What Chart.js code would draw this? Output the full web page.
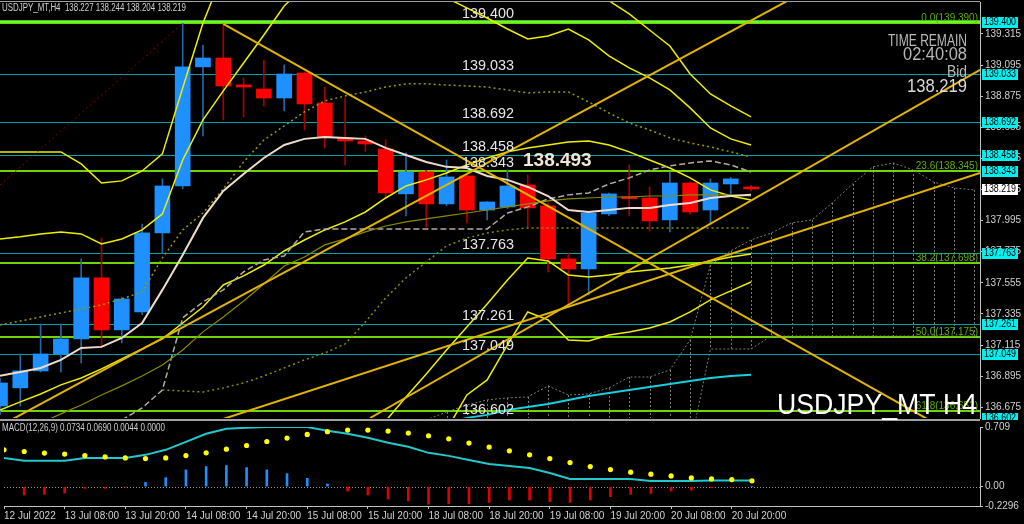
<!DOCTYPE html>
<html>
<head>
<meta charset="utf-8">
<script src="https://cdn.jsdelivr.net/npm/chart.js@4.4.0/dist/chart.umd.min.js"></script>
<style>
body { margin: 0; background: #000; overflow: hidden; }
#wrap { position: relative; width: 1024px; height: 524px; background: #000; }
#main { position: absolute; left: 0; top: 0; }
#macd { position: absolute; left: 0; top: 420px; }
</style>
</head>
<body>
<div id="wrap">
  <canvas id="main" width="1024" height="420"></canvas>
  <canvas id="macd" width="1024" height="104"></canvas>
</div>
<script>
// velas H4 USDJPY (12 Jul 20:00 -> 20 Jul 20:00)
var opens  = [136.684, 136.812, 136.932, 137.052, 137.158, 137.590, 137.222, 137.349, 137.908, 138.240,
              139.082, 139.145, 138.955, 138.926, 138.862, 139.039, 138.827, 138.580, 138.558, 138.502,
              138.184, 138.339, 138.113, 138.311, 138.070, 138.092, 138.247, 138.099, 137.724, 137.653,
              138.042, 138.160, 138.155, 138.000, 138.261, 138.070, 138.254, 138.227];
var highs  = [136.880, 137.052, 137.264, 137.264, 137.724, 137.872, 137.450, 137.971, 138.290, 139.390,
              139.237, 139.386, 139.004, 139.131, 139.096, 139.045, 138.940, 138.863, 138.594, 138.566,
              138.474, 138.350, 138.424, 138.320, 138.130, 138.353, 138.318, 138.120, 137.766, 138.050,
              138.190, 138.389, 138.233, 138.339, 138.270, 138.290, 138.300, 138.244];
var lows   = [136.620, 136.684, 136.925, 136.925, 136.988, 137.095, 137.130, 137.330, 137.767, 138.220,
              138.594, 138.707, 138.728, 138.806, 138.771, 138.636, 138.509, 138.389, 138.481, 138.162,
              138.028, 137.950, 138.100, 137.979, 138.000, 138.080, 137.943, 137.632, 137.384, 137.469,
              138.030, 138.028, 137.922, 137.915, 138.040, 137.979, 138.184, 138.204];
var closes = [136.847, 136.932, 137.052, 137.158, 137.590, 137.222, 137.441, 137.908, 138.240, 139.082,
              139.145, 138.947, 138.940, 138.862, 139.032, 138.820, 138.587, 138.558, 138.537, 138.191,
              138.339, 138.113, 138.304, 138.070, 138.127, 138.240, 138.085, 137.724, 137.653, 138.049,
              138.184, 138.150, 137.993, 138.261, 138.056, 138.261, 138.290, 138.219];

// indicadores (valor por vela)
var whiteMA = [136.897, 136.925, 136.953, 137.010, 137.094, 137.102, 137.165, 137.271, 137.505, 137.752,
               138.014, 138.205, 138.325, 138.438, 138.530, 138.573, 138.587, 138.580, 138.573, 138.509,
               138.459, 138.410, 138.375, 138.367, 138.311, 138.283, 138.233, 138.169, 138.070, 138.056,
               138.070, 138.085, 138.085, 138.106, 138.120, 138.155, 138.169, 138.177];
var bandOuterUpper = [138.481, 138.481, 138.481, 138.481, 138.396, 138.261, 138.276, 138.346, 138.467, 138.933,
               139.393, 139.75, 139.95, 140.05, 140.10, 140.10, 140.05, 140.00, 139.95, 139.90,
               139.88, 139.85, 139.82, 139.80, 139.78, 139.75, 139.72, 139.68, 139.64, 139.60,
               139.55, 139.457, 139.343, 139.230, 139.032, 138.891, 138.806, 138.728];
var bandInnerUpper = [137.865, 137.880, 137.901, 137.915, 137.901, 137.830, 137.865, 137.929, 138.042, 138.424,
               138.707, 138.912, 139.110, 139.308, 139.513, 139.65, 139.75, 139.80, 139.80, 139.75,
               139.68, 139.62, 139.570, 139.499, 139.428, 139.350, 139.280, 139.301, 139.350, 139.273,
               139.160, 139.075, 139.004, 138.919, 138.792, 138.650, 138.573, 138.530];
var bandInnerLower = [135.95, 136.08, 136.25, 136.41, 136.578, 136.748, 136.911, 137.080, 137.243, 137.406,
               137.575, 137.731, 137.710, 137.611, 137.597, 137.611, 137.632, 137.646, 137.660, 137.681,
               137.710, 137.738, 137.759];            // desde la vela 15
var bandOuterLower = [136.0, 136.3, 136.515, 136.762, 136.868, 137.116, 137.349, 137.293, 137.151, 137.144,
               137.186, 137.208, 137.236, 137.278, 137.349, 137.434, 137.498, 137.561];   // desde la vela 20
var slowYellow = [136.656, 136.713, 136.769, 136.833, 136.882, 136.946, 137.017, 137.088, 137.158, 137.271,
               137.384, 137.540, 137.604, 137.681, 137.780, 137.858, 137.929, 137.986, 138.056, 138.155,
               138.240, 138.283, 138.332, 138.389, 138.438, 138.481, 138.509, 138.530, 138.551, 138.558,
               138.530, 138.481, 138.424, 138.367, 138.297, 138.212, 138.169, 138.141];
var bbMiddle = [137.257, 137.285, 137.314, 137.342, 137.370, 137.399, 137.441, 137.491, 137.731, 137.929,
               138.049, 138.219, 138.410, 138.565, 138.665, 138.764, 138.841, 138.877, 138.905, 138.940,
               138.962, 138.962, 138.954, 138.947, 138.940, 138.919, 138.898, 138.905, 138.905, 138.834,
               138.756, 138.686, 138.636, 138.580, 138.544, 138.516, 138.481, 138.445];
var kijun = [136.585, 136.670, 136.797, 137.307, 137.420, 137.505, 137.632, 137.717, 137.745, 137.915,
               137.936, 137.936, 137.936, 137.936, 137.936, 137.936, 137.936, 137.936, 137.936, 138.049,
               138.092, 138.148, 138.177, 138.191, 138.254, 138.297, 138.353, 138.382, 138.403, 138.417,
               138.389, 138.339];                      // desde la vela 6
var oliveMA = [136.564, 136.628, 136.691, 136.762, 136.826, 136.896, 136.974, 137.080, 137.208, 137.314,
               137.427, 137.547, 137.674, 137.738, 137.823, 137.866, 137.915, 137.957, 137.986, 138.007,
               138.028, 138.049, 138.070, 138.092, 138.113, 138.134, 138.148, 138.155, 138.162, 138.162,
               138.169, 138.169, 138.177, 138.177, 138.177, 138.169];   // desde la vela 2
var oliveDots = [136.797, 136.790, 136.783, 136.812, 136.847, 136.896, 136.953, 137.010, 137.059, 137.123,
               137.278, 137.448, 137.590, 137.703, 137.816, 137.872, 137.908, 137.929, 137.943, 137.943,
               137.943, 137.943, 137.943, 137.943, 137.943, 137.943, 137.943, 137.943, 137.943, 137.943]; // desde la vela 8
var cyanMA = [136.53, 136.564, 136.600, 136.621, 136.656, 136.677, 136.698, 136.727, 136.755, 136.776,
               136.797, 136.819, 136.840, 136.861, 136.882, 136.896, 136.904];   // desde la vela 21

// nube (desde la vela 21, se proyecta hacia el futuro)
var cloudStart = 21;
var cloudTop = [136.585, 136.642, 136.691, 136.727, 136.741, 136.748, 136.826, 136.762, 136.769, 136.812,
               136.889, 136.889, 136.939, 137.151, 137.681, 137.781, 137.858, 137.908, 137.979, 138.000,
               138.120, 138.254, 138.375, 138.403, 138.353, 138.268, 138.226, 138.212];
var cloudBottom = [136.40, 136.40, 136.40, 136.40, 136.40, 136.40, 136.40, 136.40, 136.40, 136.40,
               136.40, 136.40, 136.40, 136.40, 137.087, 137.087, 137.087, 137.179, 137.179, 137.179,
               137.179, 137.179, 137.179, 137.179, 137.179, 137.179, 137.179, 137.179];

// lineas de tendencia [vela, precio]
var trendDown  = [[11, 139.386], [48.28, 136.383]];
var trendUp1   = [[10.84, 136.585], [48.28, 138.332]];
var trendUp2   = [[18.23, 136.599], [48.28, 139.061]];
var trendUp3   = [[0, 136.543], [48.28, 140.284]];
var fibDiag    = [[0, 138.247], [9, 139.39]];

// niveles horizontales
var tealLevels = [139.033, 138.692, 138.458, 138.343, 137.763, 137.261, 137.049, 136.602];
var topLevel = 139.400;
var fibLevels = [139.390, 138.345, 137.698, 137.175, 136.652];
var fibText = ['0.0(139.390)', '23.6(138.345)', '38.2(137.698)', '50.0(137.175)', '61.8(136.652)'];
var chartLabels = [139.400, 139.033, 138.692, 138.458, 138.343, 137.763, 137.261, 137.049, 136.602];
var axisBoxes = [139.400, 139.033, 138.692, 138.458, 138.343, 137.763, 137.261, 137.049, 136.602];
var bidPrice = 138.219;
var priceTicks = [139.315, 139.095, 138.875, 138.655, 138.435, 138.215, 137.995, 137.775, 137.555,
                  137.335, 137.115, 136.895, 136.675];

// MACD(12,26,9)
var macdMain = [0.342, 0.307, 0.307, 0.307, 0.342, 0.342, 0.342, 0.378, 0.438, 0.533,
                0.629, 0.689, 0.700, 0.708, 0.708, 0.708, 0.665, 0.629, 0.581, 0.521,
                0.474, 0.402, 0.366, 0.318, 0.270, 0.246, 0.222, 0.163, 0.091, 0.091,
                0.091, 0.091, 0.068, 0.068, 0.068, 0.072, 0.073, 0.0734];
var macdSignal = [0.438, 0.418, 0.399, 0.387, 0.370, 0.354, 0.342, 0.334, 0.342, 0.370,
                  0.402, 0.446, 0.489, 0.537, 0.578, 0.621, 0.653, 0.673, 0.673, 0.661,
                  0.637, 0.605, 0.569, 0.518, 0.470, 0.426, 0.378, 0.334, 0.286, 0.239,
                  0.203, 0.172, 0.148, 0.128, 0.104, 0.092, 0.084, 0.069];
var macdHist = [null, -0.099, -0.091, -0.076, -0.020, -0.020, -0.004, 0.050, 0.107, 0.199,
                0.239, 0.251, 0.227, 0.199, 0.155, 0.099, 0.032, -0.052, -0.099, -0.147,
                -0.171, -0.207, -0.203, -0.203, -0.187, -0.159, -0.159, -0.179, -0.187, -0.159,
                -0.119, -0.091, -0.080, -0.052, -0.040, -0.012, -0.005, 0.0044];
var macdTicks = [0.709, 0, -0.2296];
var macdTickText = ['0.709', '0.00', '-0.2296'];

// eje de tiempo
var axisTickBars = [0, 3, 6, 9, 12, 15, 18, 21, 24, 27, 30, 33, 36];
var axisTickText = ['12 Jul 2022', '13 Jul 08:00', '13 Jul 20:00', '14 Jul 08:00', '14 Jul 20:00',
                    '15 Jul 08:00', '15 Jul 20:00', '18 Jul 08:00', '18 Jul 20:00', '19 Jul 08:00',
                    '19 Jul 20:00', '20 Jul 08:00', '20 Jul 20:00'];

var xMax = 48.28;
var FONT = "'Liberation Sans', Arial, sans-serif";
Chart.defaults.font.family = FONT;

function serie(values, start) {
    start = start || 0;
    return values.map(function (v, i) { return { x: start + i, y: v }; });
}
function linea(values, start, color, width, dash, order) {
    return { type: 'line', data: serie(values, start), borderColor: color, borderWidth: width,
             borderDash: dash || [], pointRadius: 0, tension: 0, fill: false, order: order || 5 };
}
function segmento(points, color, width, dash) {
    return { type: 'line', data: points.map(function (p) { return { x: p[0], y: p[1] }; }),
             borderColor: color, borderWidth: width, borderDash: dash || [], pointRadius: 0, order: 3 };
}

var bullish = opens.map(function (o, i) { return closes[i] >= o; });

var mainOverlay = {
    id: 'mainOverlay',
    beforeDatasetsDraw: function (chart) {
        var ctx = chart.ctx, a = chart.chartArea, x = chart.scales.x, y = chart.scales.y;
        ctx.save();
        ctx.beginPath(); ctx.rect(a.left, a.top, a.right - a.left, a.bottom - a.top); ctx.clip();
        // sombreado de la nube
        ctx.strokeStyle = '#7c7c7c'; ctx.lineWidth = 1; ctx.setLineDash([2, 2]);
        cloudTop.forEach(function (v, k) {
            var px = Math.round(x.getPixelForValue(cloudStart + k)) + 0.5;
            ctx.beginPath();
            ctx.moveTo(px, y.getPixelForValue(v));
            ctx.lineTo(px, y.getPixelForValue(cloudBottom[k]));
            ctx.stroke();
        });
        ctx.setLineDash([]);
        // niveles
        ctx.lineWidth = 1; ctx.strokeStyle = '#00a3a3';
        tealLevels.forEach(function (v) {
            var py = Math.round(y.getPixelForValue(v)) + 0.5;
            ctx.beginPath(); ctx.moveTo(a.left, py); ctx.lineTo(a.right, py); ctx.stroke();
        });
        ctx.lineWidth = 2; ctx.strokeStyle = '#70d400';
        fibLevels.forEach(function (v) {
            var py = Math.round(y.getPixelForValue(v));
            ctx.beginPath(); ctx.moveTo(a.left, py); ctx.lineTo(a.right, py); ctx.stroke();
        });
        ctx.strokeStyle = '#66ff33'; ctx.lineWidth = 2.5;
        var pt = Math.round(y.getPixelForValue(topLevel)) - 0.5;
        ctx.beginPath(); ctx.moveTo(a.left, pt); ctx.lineTo(a.right, pt); ctx.stroke();
        ctx.restore();
    },
    afterDraw: function (chart) {
        var ctx = chart.ctx, a = chart.chartArea, y = chart.scales.y;
        ctx.save();
        // borde superior e inferior del panel
        ctx.strokeStyle = '#a0a0a0'; ctx.lineWidth = 1;
        ctx.beginPath(); ctx.moveTo(0, 1.5); ctx.lineTo(a.right, 1.5); ctx.stroke();
        ctx.beginPath(); ctx.moveTo(0, 419.5); ctx.lineTo(a.right, 419.5); ctx.stroke();

        // textos de nivel dentro del grafico
        ctx.fillStyle = '#e6e6e6'; ctx.font = '15px ' + FONT; ctx.textBaseline = 'alphabetic'; ctx.textAlign = 'left';
        chartLabels.forEach(function (v) {
            ctx.fillText(v.toFixed(3), 462, y.getPixelForValue(v) - 4, 52);
        });
        ctx.fillStyle = '#f3e7d3'; ctx.font = 'bold 19px ' + FONT;
        ctx.fillText('138.493', 523, 166, 76);

        // etiquetas fibonacci
        ctx.fillStyle = '#5fae00'; ctx.font = '10px ' + FONT; ctx.textAlign = 'right';
        fibLevels.forEach(function (v, k) {
            ctx.fillText(fibText[k], a.right - 2, y.getPixelForValue(v) - 2);
        });

        // cabecera
        ctx.textAlign = 'left'; ctx.fillStyle = '#cfcfcf'; ctx.font = '10px ' + FONT;
        ctx.fillText('USDJPY_MT,H4  138.227 138.244 138.204 138.219', 2, 11, 184);

        // contador y bid
        ctx.textAlign = 'right'; ctx.fillStyle = '#b8b8b8';
        ctx.font = '17px ' + FONT; ctx.fillText('TIME REMAIN', 967, 46, 79);
        ctx.font = '19px ' + FONT; ctx.fillText('02:40:08', 967, 60, 64);
        ctx.font = '17px ' + FONT; ctx.fillText('Bid', 967, 77, 20);
        ctx.fillStyle = '#d8d8d8'; ctx.font = '19px ' + FONT; ctx.fillText(String(bidPrice.toFixed(3)), 967, 92, 60);

        // simbolo
        ctx.fillStyle = '#ffffff'; ctx.font = '29px ' + FONT;
        ctx.fillText('USDJPY_MT H4', 977, 414, 200);

        // cajas del eje de precios
        ctx.textAlign = 'left'; ctx.textBaseline = 'middle'; ctx.font = '10px ' + FONT;
        axisBoxes.forEach(function (v) {
            var py = Math.round(y.getPixelForValue(v));
            ctx.fillStyle = '#00f0f0'; ctx.fillRect(982, py - 5, 36, 11);
            ctx.fillStyle = '#000000'; ctx.fillText(v.toFixed(3), 984, py + 0.5, 32);
        });
        var pb = Math.round(y.getPixelForValue(bidPrice));
        ctx.fillStyle = '#ffffff'; ctx.fillRect(982, pb - 5, 36, 11);
        ctx.fillStyle = '#000000'; ctx.fillText(bidPrice.toFixed(3), 984, pb + 0.5, 32);
        ctx.restore();
    }
};

var candleDatasets = [
    { type: 'bar', data: opens.map(function (o, i) { return { x: i, y: [lows[i], highs[i]] }; }),
      backgroundColor: bullish.map(function (b) { return b ? '#2466a8' : '#a80000'; }),
      barThickness: 1, grouped: false, order: 20 },
    { type: 'bar', data: opens.map(function (o, i) { return { x: i, y: [o, closes[i]] }; }),
      backgroundColor: bullish.map(function (b) { return b ? '#1e90ff' : '#ff0000'; }),
      barThickness: 15, grouped: false, minBarLength: 2, order: 19 }
];

var lineDatasets = [
    linea(cyanMA, 21, '#16d0dc', 2),
    linea(cloudTop, cloudStart, '#7c7c7c', 1, [2, 2], 8),
    linea(cloudBottom, cloudStart, '#7c7c7c', 1, [2, 2], 8),
    linea(oliveMA, 2, '#8a8a00', 1.2),
    linea(oliveDots, 8, '#8a8a00', 1.5, [2, 3]),
    linea(bbMiddle, 0, '#9a9a00', 1.5, [2, 3]),
    linea(kijun, 6, '#b5aba0', 1.5, [6, 3]),
    linea(bandOuterUpper, 0, '#eeee00', 1.5),
    linea(bandInnerUpper, 0, '#eeee00', 1.5),
    linea(bandInnerLower, 15, '#eeee00', 1.5),
    linea(bandOuterLower, 20, '#eeee00', 1.5),
    linea(slowYellow, 0, '#eeee00', 1.5),
    linea(whiteMA, 0, '#eedccb', 2, [], 4),
    segmento(trendDown, '#e2b400', 2),
    segmento(trendUp1, '#e2b400', 2),
    segmento(trendUp2, '#e2b400', 2),
    segmento(trendUp3, '#e2b400', 2),
    segmento(fibDiag, '#8b0000', 1, [2, 3])
];

new Chart(document.getElementById('main').getContext('2d'), {
    type: 'bar',
    data: { datasets: candleDatasets.concat(lineDatasets) },
    options: {
        responsive: false,
        animation: false,
        layout: { padding: { top: 2, bottom: 2, left: 0, right: 0 } },
        plugins: { legend: { display: false }, tooltip: { enabled: false } },
        scales: {
            x: { type: 'linear', min: 0, max: xMax, offset: false, display: false },
            y: {
                position: 'right', min: 136.599, max: 139.541,
                afterBuildTicks: function (s) { s.ticks = priceTicks.map(function (v) { return { value: v }; }); },
                afterFit: function (s) { s.width = 44; s.paddingTop = 0; s.paddingBottom = 0; },
                ticks: { color: '#d0d0d0', font: { size: 10 }, padding: 2, autoSkip: false,
                         callback: function (v) { return Number(v).toFixed(3); } },
                grid: { drawOnChartArea: false, color: '#c0c0c0', tickLength: 3 },
                border: { color: '#c0c0c0' }
            }
        }
    },
    plugins: [mainOverlay]
});

var macdOverlay = {
    id: 'macdOverlay',
    beforeDatasetsDraw: function (chart) {
        var ctx = chart.ctx, a = chart.chartArea, y = chart.scales.y;
        ctx.save();
        ctx.strokeStyle = '#a0a0a0'; ctx.lineWidth = 1;
        ctx.beginPath(); ctx.moveTo(0, 0.5); ctx.lineTo(a.right, 0.5); ctx.stroke();
        ctx.setLineDash([1, 2]); ctx.strokeStyle = '#9a9a9a';
        var z = Math.round(y.getPixelForValue(0)) + 0.5;
        ctx.beginPath(); ctx.moveTo(a.left, z); ctx.lineTo(a.right, z); ctx.stroke();
        ctx.restore();
    },
    afterDraw: function (chart) {
        var ctx = chart.ctx;
        ctx.save();
        ctx.fillStyle = '#cfcfcf'; ctx.font = '10px ' + FONT; ctx.textBaseline = 'middle';
        ctx.fillText('MACD(12,26,9) 0.0734 0.0690 0.0044 0.0000', 2, 8.5, 163);
        ctx.restore();
    }
};

new Chart(document.getElementById('macd').getContext('2d'), {
    type: 'bar',
    data: {
        datasets: [
            { type: 'line', data: serie(macdMain), borderColor: '#22c8cc', borderWidth: 2, pointRadius: 0, order: 2 },
            { type: 'line', data: serie(macdSignal), showLine: false, pointRadius: 2.6, pointBorderWidth: 0,
              pointBackgroundColor: '#ffff00', order: 1 },
            { type: 'bar', data: serie(macdHist), barThickness: 2, order: 3,
              backgroundColor: macdHist.map(function (v) { return v > 0 ? '#1e8fff' : '#e00000'; }) }
        ]
    },
    options: {
        responsive: false,
        animation: false,
        layout: { padding: { top: 7, bottom: 0, left: 0, right: 0 } },
        plugins: { legend: { display: false }, tooltip: { enabled: false } },
        scales: {
            x: {
                type: 'linear', min: 0, max: xMax, offset: false,
                afterBuildTicks: function (s) { s.ticks = axisTickBars.map(function (v) { return { value: v }; }); },
                afterFit: function (s) { s.height = 18; s.paddingLeft = 0; s.paddingRight = 0; },
                ticks: { color: '#d0d0d0', font: { size: 10 }, align: 'start', maxRotation: 0, autoSkip: false, padding: 1,
                         callback: function (v, i) { return axisTickText[i]; } },
                grid: { drawOnChartArea: false, color: '#c0c0c0', tickLength: 3, offset: false },
                border: { color: '#c0c0c0' }
            },
            y: {
                position: 'right', min: -0.2296, max: 0.709,
                afterBuildTicks: function (s) { s.ticks = macdTicks.map(function (v) { return { value: v }; }); },
                afterFit: function (s) { s.width = 44; s.paddingTop = 0; s.paddingBottom = 0; },
                ticks: { color: '#d0d0d0', font: { size: 10 }, padding: 2, autoSkip: false,
                         callback: function (v, i) { return macdTickText[i]; } },
                grid: { drawOnChartArea: false, color: '#c0c0c0', tickLength: 3 },
                border: { color: '#c0c0c0' }
            }
        }
    },
    plugins: [macdOverlay]
});
</script>
</body>
</html>
